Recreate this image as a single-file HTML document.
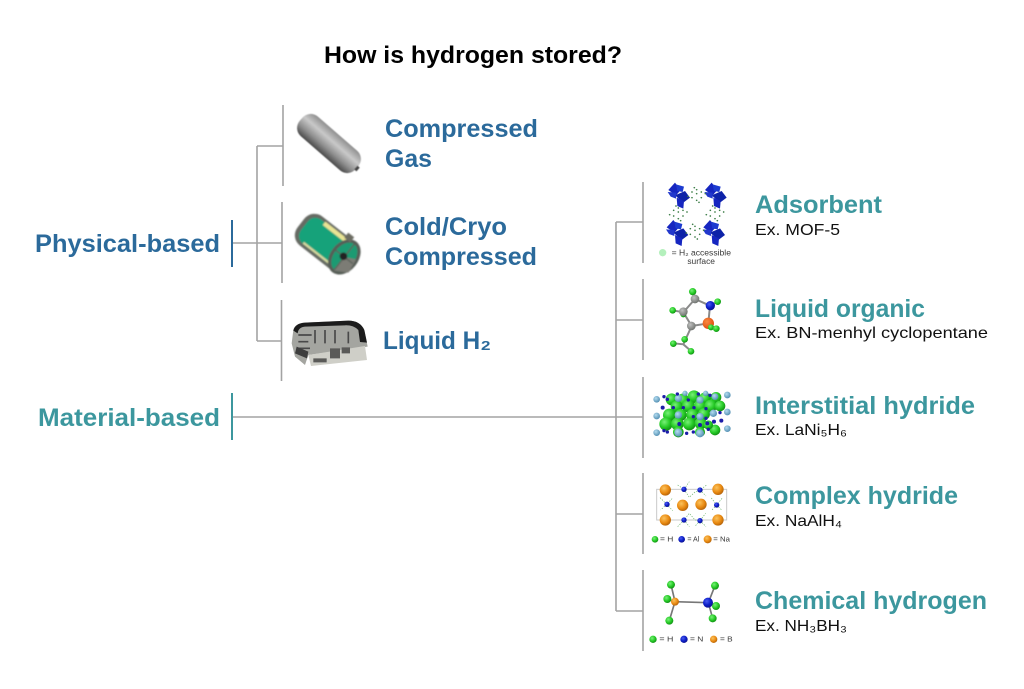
<!DOCTYPE html>
<html><head><meta charset="utf-8"><title>How is hydrogen stored?</title>
<style>
html,body{margin:0;padding:0;background:#fff;width:1024px;height:689px;overflow:hidden}
svg{display:block}
text{font-family:"Liberation Sans","DejaVu Sans",sans-serif}
.b{font-weight:700;font-size:25px;fill:#2b6a9b}
.t{font-weight:700;font-size:25px;fill:#3c979e}
.s{font-size:16px;fill:#111}
.l{fill:#3a3a3a}
</style></head><body>
<svg width="1024" height="689" viewBox="0 0 1024 689" xmlns="http://www.w3.org/2000/svg">
<defs>
<filter id="soft" x="-10%" y="-10%" width="120%" height="120%"><feGaussianBlur stdDeviation="0.45"/></filter>
<filter id="soft2" x="-10%" y="-10%" width="120%" height="120%"><feGaussianBlur stdDeviation="0.8"/></filter>
<linearGradient id="tg" x1="0" y1="0" x2="0" y2="1"><stop offset="0" stop-color="#8f8f8f"/><stop offset=".35" stop-color="#c9c9c9"/><stop offset=".7" stop-color="#8e8e8e"/><stop offset="1" stop-color="#4a4a4a"/></linearGradient>
<radialGradient id="g" cx=".38" cy=".35" r=".7"><stop offset="0" stop-color="#78f078"/><stop offset=".55" stop-color="#28cc28"/><stop offset="1" stop-color="#0e8a12"/></radialGradient>
<radialGradient id="bl" cx=".38" cy=".35" r=".7"><stop offset="0" stop-color="#4a5cf0"/><stop offset=".55" stop-color="#0d1fc8"/><stop offset="1" stop-color="#081088"/></radialGradient>
<radialGradient id="o" cx=".38" cy=".35" r=".7"><stop offset="0" stop-color="#fbc25c"/><stop offset=".6" stop-color="#e98a12"/><stop offset="1" stop-color="#b0600a"/></radialGradient>
<radialGradient id="c" cx=".38" cy=".35" r=".7"><stop offset="0" stop-color="#c0c0c0"/><stop offset="1" stop-color="#6c706c"/></radialGradient>
<radialGradient id="lb" cx=".38" cy=".35" r=".7"><stop offset="0" stop-color="#b4dcf0"/><stop offset="1" stop-color="#4f8cb0"/></radialGradient>
<radialGradient id="r" cx=".38" cy=".35" r=".7"><stop offset="0" stop-color="#f98a40"/><stop offset="1" stop-color="#dd4a0c"/></radialGradient>
<g id="cl" fill="#1627c0">
<polygon points="5,22 25,0 42,22 28,38"/><polygon points="28,5 52,12 48,28 32,25" fill="#1f3ad0"/>
<polygon points="25,38 55,25 70,45 50,60" fill="#1020a8"/><polygon points="30,45 52,55 50,78 32,70"/><polygon points="3,28 28,30 28,48 12,42" fill="#2038cc"/>
</g>
<g id="ring" fill="#3f7f4a">
<circle cx="0" cy="-16" r="2.500"/><circle cx="14" cy="-9" r="2.500"/><circle cx="14" cy="8" r="2.500"/><circle cx="0" cy="16" r="2.500"/><circle cx="-14" cy="8" r="2.500"/><circle cx="-14" cy="-9" r="2.500"/>
<circle cx="26" cy="-4" r="2.500"/><circle cx="-26" cy="4" r="2.500"/><circle cx="0" cy="-4" r="2.500"/><circle cx="7" cy="22" r="2.500"/><circle cx="-7" cy="-22" r="2.500"/>
</g>
</defs>

<text x="324" y="63" font-size="24" font-weight="700" fill="#000" textLength="298" lengthAdjust="spacingAndGlyphs">How is hydrogen stored?</text>

<!-- connectors -->
<g stroke="#a3a3a3" stroke-width="1.6" fill="none">
<path d="M232 243H257M257 146V341M257 146H283M257 243H282M257 341H282"/>
<path d="M283 105V186M282 202V283M281.500 300V381"/>
<path d="M232 417H643M616 222V611M616 222H643M616 320H643M616 514H643M616 611H643"/>
<path d="M643 182V263M643 279V360M643 377V458M643 473V554M643 570V651"/>
</g>
<path d="M232 220V267" stroke="#2b6a9b" stroke-width="2" fill="none"/>
<path d="M232 393V440" stroke="#3c979e" stroke-width="2" fill="none"/>

<!-- left labels -->
<text class="b" x="35" y="252" textLength="185" lengthAdjust="spacingAndGlyphs">Physical-based</text>
<text class="t" x="38" y="426" textLength="182" lengthAdjust="spacingAndGlyphs">Material-based</text>
<text class="b" x="385" y="137" textLength="153" lengthAdjust="spacingAndGlyphs">Compressed</text>
<text class="b" x="385" y="167" textLength="47" lengthAdjust="spacingAndGlyphs">Gas</text>
<text class="b" x="385" y="235" textLength="122" lengthAdjust="spacingAndGlyphs">Cold/Cryo</text>
<text class="b" x="385" y="265" textLength="152" lengthAdjust="spacingAndGlyphs">Compressed</text>
<text class="b" x="383" y="349" textLength="108" lengthAdjust="spacingAndGlyphs">Liquid H₂</text>

<!-- right labels -->
<text class="t" x="755" y="213" textLength="127" lengthAdjust="spacingAndGlyphs">Adsorbent</text>
<text class="s" x="755" y="235" textLength="85" lengthAdjust="spacingAndGlyphs">Ex. MOF-5</text>
<text class="t" x="755" y="317" textLength="170" lengthAdjust="spacingAndGlyphs">Liquid organic</text>
<text class="s" x="755" y="338" textLength="233" lengthAdjust="spacingAndGlyphs">Ex. BN-menhyl cyclopentane</text>
<text class="t" x="755" y="414" textLength="220" lengthAdjust="spacingAndGlyphs">Interstitial hydride</text>
<text class="s" x="755" y="435" textLength="92" lengthAdjust="spacingAndGlyphs">Ex. LaNi₅H₆</text>
<text class="t" x="755" y="504" textLength="203" lengthAdjust="spacingAndGlyphs">Complex hydride</text>
<text class="s" x="755" y="526" textLength="87" lengthAdjust="spacingAndGlyphs">Ex. NaAlH₄</text>
<text class="t" x="755" y="609" textLength="232" lengthAdjust="spacingAndGlyphs">Chemical hydrogen</text>
<text class="s" x="755" y="631" textLength="92" lengthAdjust="spacingAndGlyphs">Ex. NH₃BH₃</text>

<!-- tank 1 -->
<g filter="url(#soft)">
<g transform="translate(329 143.500) rotate(41)">
<rect x="-37" y="-13" width="74" height="26" rx="11" fill="url(#tg)"/>
<rect x="36" y="-2" width="3" height="5" fill="#444"/>
</g>
</g>

<!-- tank 2 -->
<g filter="url(#soft2)">
<g transform="translate(329 245) rotate(38) scale(1.08)">
<rect x="-33" y="-17" width="62" height="34" rx="12" fill="#666b64"/>
<rect x="-29" y="-14" width="46" height="28" rx="9" fill="#12a27a"/>
<rect x="-16" y="-15" width="28" height="4" fill="#e9e494"/>
<rect x="-20" y="12" width="34" height="2" fill="#d9d9a0"/>
<ellipse cx="18" cy="0" rx="13" ry="18" fill="#565d56"/>
<ellipse cx="18" cy="0" rx="10" ry="15" fill="#1a9a72"/>
<path d="M18 0L28 -5L30 9L18 16Z" fill="#7b7b74"/>
<path d="M18 -15V15M8 0H28" stroke="#5a625a" stroke-width="1.200"/>
<circle cx="17" cy="0" r="3.500" fill="#222"/>
<path d="M7 -20h7v6h-7z" fill="#6c6c62"/>
</g>
</g>

<!-- tank 3 -->
<g transform="translate(285 310) scale(.3333)" filter="url(#soft2)">
<path d="M25 60Q30 40 60 38L190 32Q225 32 238 60L248 110L70 135L60 165L30 140L20 100Z" fill="#a4a5a0"/>
<path d="M25 62Q30 40 60 38L190 32Q225 32 238 60L246 98L225 96L220 60Q205 45 180 46L60 50Q40 52 38 70Z" fill="#1f1f1f"/>
<path d="M40 75h40M40 95h30M35 115h40M90 60v40M120 60v40M150 60v40M190 65v35" stroke="#4a4a4a" stroke-width="5" fill="none"/>
<path d="M70 135L240 108L246 150L78 168Z" fill="#cfcfc8"/>
<path d="M135 115h30v30h-30zM170 112h25v18h-25zM85 145h40v12h-40z" fill="#5a5a58"/>
<path d="M35 110L70 125L66 145L30 130Z" fill="#3d3d3d"/>
</g>

<!-- adsorbent MOF-5 (zoom coords 650,180) -->
<g transform="translate(650 180) scale(.3333)" filter="url(#soft)">
<use href="#cl" x="50" y="8"/><use href="#cl" x="160" y="8"/><use href="#cl" x="45" y="120"/><use href="#cl" x="155" y="120"/>
<use href="#ring" x="140" y="45"/><use href="#ring" x="85" y="100"/><use href="#ring" x="195" y="100"/><use href="#ring" x="135" y="155"/>
<circle cx="38" cy="218" r="11" fill="#b4f0bc"/>
<text class="l" x="65" y="226" font-size="24" textLength="178" lengthAdjust="spacingAndGlyphs">= H₂ accessible</text>
<text class="l" x="112" y="252" font-size="24" textLength="83" lengthAdjust="spacingAndGlyphs">surface</text>
</g>

<!-- liquid organic (zoom coords 640,175) -->
<g transform="translate(640 175) scale(.3333)" filter="url(#soft)">
<path d="M158 350L165 372L210 392L205 445L155 453L130 412L165 372M155 453L130 508M130 508L100 505M130 508L153 528M130 412L98 406M205 445L225 460M210 392L233 380" stroke="#8a8a8a" stroke-width="6" fill="none"/>
<g fill="url(#g)">
<circle cx="158" cy="350" r="11"/><circle cx="98" cy="406" r="10"/><circle cx="130" cy="418" r="9"/><circle cx="233" cy="380" r="10"/><circle cx="100" cy="506" r="10"/><circle cx="153" cy="529" r="10"/><circle cx="134" cy="493" r="10"/>
</g>
<g fill="url(#c)"><circle cx="165" cy="372" r="13"/><circle cx="130" cy="410" r="13"/><circle cx="154" cy="453" r="13"/></g>
<circle cx="211" cy="392" r="14" fill="url(#bl)"/>
<circle cx="205" cy="445" r="17" fill="url(#r)"/>
<g fill="url(#g)"><circle cx="213" cy="457" r="9"/><circle cx="229" cy="461" r="10"/></g>
</g>

<!-- interstitial hydride (zoom coords 640,370) -->
<g transform="translate(640 370) scale(.3333)" filter="url(#soft)">
<g fill="url(#g)">
<circle cx="95" cy="88" r="18"/><circle cx="128" cy="90" r="19"/><circle cx="162" cy="80" r="19"/><circle cx="195" cy="85" r="18"/><circle cx="228" cy="82" r="16"/>
<circle cx="110" cy="110" r="18"/><circle cx="145" cy="108" r="19"/><circle cx="180" cy="108" r="19"/><circle cx="212" cy="108" r="19"/><circle cx="240" cy="108" r="16"/>
<circle cx="88" cy="135" r="19"/><circle cx="122" cy="135" r="18"/><circle cx="158" cy="135" r="19"/><circle cx="192" cy="132" r="18"/>
<circle cx="78" cy="162" r="20"/><circle cx="112" cy="162" r="19"/><circle cx="148" cy="162" r="19"/><circle cx="182" cy="160" r="18"/><circle cx="225" cy="180" r="16"/><circle cx="115" cy="186" r="16"/><circle cx="180" cy="186" r="15"/><circle cx="205" cy="165" r="14"/>
</g>
<g fill="url(#lb)">
<circle cx="50" cy="88" r="10"/><circle cx="50" cy="138" r="10"/><circle cx="50" cy="188" r="10"/><circle cx="262" cy="75" r="10"/><circle cx="262" cy="126" r="10"/><circle cx="262" cy="176" r="10"/>
<circle cx="115" cy="85" r="11"/><circle cx="180" cy="90" r="11"/><circle cx="225" cy="80" r="10"/><circle cx="115" cy="135" r="11"/><circle cx="180" cy="140" r="11"/><circle cx="220" cy="130" r="11"/><circle cx="115" cy="188" r="12"/><circle cx="180" cy="190" r="12"/><circle cx="135" cy="70" r="8"/><circle cx="197" cy="70" r="8"/>
</g>
<g fill="#1a1aa8">
<circle cx="72" cy="80" r="5"/><circle cx="82" cy="88" r="5"/><circle cx="112" cy="72" r="5"/><circle cx="145" cy="90" r="5"/><circle cx="175" cy="72" r="5"/><circle cx="210" cy="76" r="5"/><circle cx="68" cy="113" r="6"/><circle cx="100" cy="113" r="5"/><circle cx="130" cy="113" r="5"/><circle cx="162" cy="113" r="5"/><circle cx="198" cy="116" r="5"/><circle cx="240" cy="128" r="5"/><circle cx="160" cy="140" r="5"/><circle cx="198" cy="145" r="5"/><circle cx="118" cy="162" r="6"/><circle cx="180" cy="165" r="6"/><circle cx="222" cy="155" r="6"/><circle cx="244" cy="152" r="6"/><circle cx="202" cy="160" r="6"/><circle cx="72" cy="182" r="5"/><circle cx="140" cy="190" r="5"/><circle cx="160" cy="186" r="5"/><circle cx="205" cy="178" r="5"/><circle cx="82" cy="186" r="5"/>
</g>
</g>

<!-- complex hydride -->
<g transform="translate(640 370) scale(.3333)" filter="url(#soft)">
<rect x="50" y="358" width="210" height="92" fill="none" stroke="#c9c9c9" stroke-width="3"/>
<g stroke="#66b066" stroke-width="2" stroke-dasharray="4 4" fill="none">
<path d="M113 345L132 358L148 335M132 358L148 382L165 366L180 360L200 345M180 360L198 378"/>
<path d="M60 383L80 403L98 384M80 403L62 420M80 403L98 422"/>
<path d="M214 384L230 405L247 384M230 405L214 422M230 405L247 422"/>
<path d="M113 470L132 450L148 430L165 450L180 452L197 430M132 450L148 470M180 452L198 470M180 452L164 470"/>
</g>
<g fill="url(#o)">
<circle cx="76" cy="360" r="17"/><circle cx="234" cy="358" r="17"/><circle cx="128" cy="406" r="17"/><circle cx="183" cy="403" r="17"/><circle cx="76" cy="450" r="17"/><circle cx="234" cy="450" r="17"/>
</g>
<g fill="url(#bl)">
<circle cx="132" cy="358" r="8"/><circle cx="180" cy="360" r="8"/><circle cx="81" cy="403" r="8"/><circle cx="230" cy="405" r="8"/><circle cx="132" cy="450" r="8"/><circle cx="180" cy="452" r="8"/>
</g>
<circle cx="45" cy="508" r="10" fill="url(#g)"/><text class="l" x="60" y="515" font-size="22" textLength="40" lengthAdjust="spacingAndGlyphs">= H</text>
<circle cx="125" cy="508" r="10" fill="url(#bl)"/><text class="l" x="142" y="515" font-size="22" textLength="36" lengthAdjust="spacingAndGlyphs">= Al</text>
<circle cx="203" cy="508" r="12" fill="url(#o)"/><text class="l" x="220" y="515" font-size="22" textLength="50" lengthAdjust="spacingAndGlyphs">= Na</text>
</g>

<!-- chemical hydrogen (zoom coords 640,550) -->
<g transform="translate(640 550) scale(.3333)" filter="url(#soft)">
<path d="M93 104L105 155L88 212M82 147L105 155M105 155L205 158L225 107M205 158L228 168M205 158L218 205" stroke="#777" stroke-width="5" fill="none"/>
<g fill="url(#g)"><circle cx="93" cy="104" r="12"/><circle cx="82" cy="147" r="12"/><circle cx="88" cy="212" r="12"/><circle cx="225" cy="107" r="12"/><circle cx="228" cy="168" r="12"/><circle cx="218" cy="205" r="12"/></g>
<circle cx="105" cy="155" r="12" fill="url(#o)"/>
<circle cx="204" cy="158" r="15" fill="url(#bl)"/>
<circle cx="39" cy="268" r="11" fill="url(#g)"/><text class="l" x="58" y="275" font-size="22" textLength="42" lengthAdjust="spacingAndGlyphs">= H</text>
<circle cx="132" cy="268" r="11" fill="url(#bl)"/><text class="l" x="150" y="275" font-size="22" textLength="40" lengthAdjust="spacingAndGlyphs">= N</text>
<circle cx="221" cy="268" r="11" fill="url(#o)"/><text class="l" x="240" y="275" font-size="22" textLength="38" lengthAdjust="spacingAndGlyphs">= B</text>
</g>
</svg>
</body></html>
